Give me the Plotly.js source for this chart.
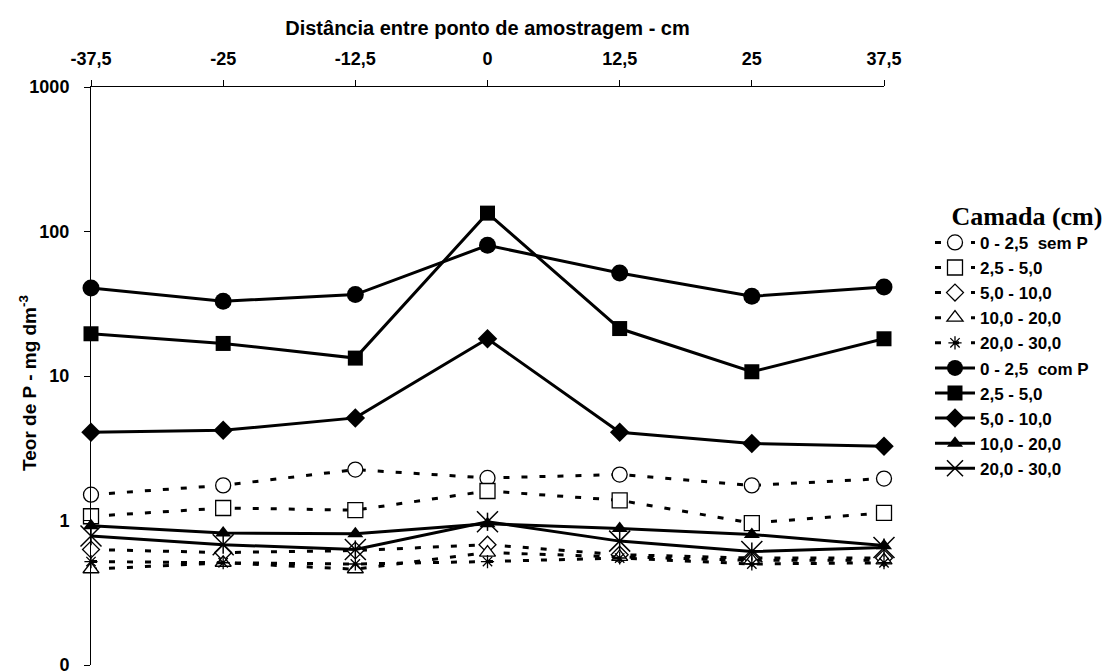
<!DOCTYPE html>
<html>
<head>
<meta charset="utf-8">
<script src="https://cdn.plot.ly/plotly-3.0.1.min.js"></script>
<style>html,body{margin:0;padding:0;background:#fff;}#chart{width:1115px;height:672px;}</style>
</head>
<body>
<div id="chart"></div>
<script>
// Distance between sampling points (cm)
const distances = [-37.5, -25, -12.5, 0, 12.5, 25, 37.5];
const distanceLabels = ['-37,5', '-25', '-12,5', '0', '12,5', '25', '37,5'];

// Layer names
const layerNames = ['0 - 2,5 \u00a0sem P', '2,5 - 5,0', '5,0 - 10,0', '10,0 - 20,0', '20,0 - 30,0',
                    '0 - 2,5 \u00a0com P', '2,5 - 5,0', '5,0 - 10,0', '10,0 - 20,0', '20,0 - 30,0'];

// Without P (sem P)
const semP_0_25   = [1.51, 1.75, 2.25, 1.97, 2.08, 1.75, 1.95];
const semP_25_5   = [1.07, 1.22, 1.18, 1.60, 1.38, 0.96, 1.13];
const semP_5_10   = [0.63, 0.60, 0.62, 0.68, 0.58, 0.55, 0.55];
const semP_10_20  = [0.46, 0.51, 0.46, 0.60, 0.56, 0.53, 0.53];
const semP_20_30  = [0.52, 0.51, 0.50, 0.52, 0.55, 0.50, 0.51];

// With P (com P)
const comP_0_25   = [40.7, 32.9, 36.6, 80.2, 51.6, 35.6, 41.3];
const comP_25_5   = [19.6, 16.8, 13.3, 134, 21.3, 10.7, 18.1];
const comP_5_10   = [4.08, 4.21, 5.13, 18.1, 4.08, 3.41, 3.26];
const comP_10_20  = [0.92, 0.82, 0.81, 0.95, 0.88, 0.80, 0.67];
const comP_20_30  = [0.78, 0.68, 0.63, 0.98, 0.72, 0.61, 0.65];

const yTickVals = [0.1, 1, 10, 100, 1000];
const yTickText = ['0', '1', '10', '100', '1000'];

const semSeries = [semP_0_25, semP_25_5, semP_5_10, semP_10_20, semP_20_30];
const comSeries = [comP_0_25, comP_25_5, comP_5_10, comP_10_20, comP_20_30];

const semSymbols = ['circle', 'square', 'diamond', 'triangle-up', 'asterisk-open'];
const semSizes   = [15, 15, 13, 14, 11];
const comSymbols = ['circle', 'square', 'diamond', 'triangle-up', 'x-thin-open'];
const comSizes   = [17, 15, 15, 14, 21];

const traces = [];
semSeries.forEach((ys, i) => {
  const isAst = semSymbols[i].startsWith('asterisk');
  traces.push({
    x: distances, y: ys, type: 'scatter', mode: 'lines+markers',
    name: layerNames[i],
    line: {color: '#000', width: 3, dash: '6px,12px'},
    marker: {symbol: semSymbols[i], size: semSizes[i], color: isAst ? '#000' : '#fff',
             line: {color: '#000', width: 1.3}},
    cliponaxis: false
  });
});
comSeries.forEach((ys, i) => {
  const isX = comSymbols[i].startsWith('x-thin');
  traces.push({
    x: distances, y: ys, type: 'scatter', mode: 'lines+markers',
    name: layerNames[5 + i],
    line: {color: '#000', width: 3},
    marker: {symbol: comSymbols[i], size: comSizes[i], color: '#000',
             line: {color: '#000', width: isX ? 1.5 : 0}},
    cliponaxis: false
  });
});
// vertical bar of the 20-30 com P star marker
traces.push({
  x: distances, y: comP_20_30, type: 'scatter', mode: 'markers',
  showlegend: false, hoverinfo: 'skip',
  marker: {symbol: 'line-ns-open', size: 13, color: '#000', line: {color: '#000', width: 1.5}},
  cliponaxis: false
});

const sans = 'Liberation Sans, Arial, sans-serif';
const tickFont = {family: sans, size: 18, color: '#000', weight: 'bold'};

const layout = {
  width: 1115, height: 672,
  margin: {l: 91, r: 231, t: 87, b: 7, pad: 0},
  paper_bgcolor: '#fff', plot_bgcolor: '#fff',
  showlegend: true,
  xaxis: {
    side: 'top', range: [-37.5, 37.5], tickmode: 'array', tickvals: distances, ticktext: distanceLabels,
    showline: true, linecolor: '#000', linewidth: 1, ticks: 'outside', ticklen: 6, tickcolor: '#000',
    ticklabelstandoff: 8, ticklabeloverflow: 'allow',
    showgrid: false, zeroline: false, tickfont: tickFont,
    title: {text: 'Distância entre ponto de amostragem - cm', font: {family: sans, size: 20, color: '#000', weight: 'bold'}, standoff: 7}
  },
  yaxis: {
    type: 'log', range: [-1, 3], tickmode: 'array', tickvals: yTickVals, ticktext: yTickText,
    showline: true, linecolor: '#000', linewidth: 1, ticks: 'outside', ticklen: 6, tickcolor: '#000',
    ticklabelstandoff: 11, ticklabeloverflow: 'allow',
    showgrid: false, zeroline: false, tickfont: tickFont
  },
  annotations: [{
    text: 'Teor de P - mg dm<sup>-3</sup>', textangle: -90,
    xref: 'paper', yref: 'paper', x: -0.0794, y: 0.488, xanchor: 'center', yanchor: 'middle',
    showarrow: false, font: {family: sans, size: 19, color: '#000', weight: 'bold'}
  }],
  legend: {
    x: 1.058, xanchor: 'left', y: 0.82, yanchor: 'top',
    itemwidth: 40,
    font: {family: sans, size: 17, color: '#000', weight: 'bold'}, bgcolor: 'rgba(0,0,0,0)',
    title: {text: '\u00a0\u00a0\u00a0Camada (cm)', side: 'top', font: {family: 'Liberation Serif, Times New Roman, serif', size: 26, color: '#000', weight: 'bold'}}
  }
};

Plotly.newPlot('chart', traces, layout, {displayModeBar: false, staticPlot: true});
</script>
</body>
</html>
